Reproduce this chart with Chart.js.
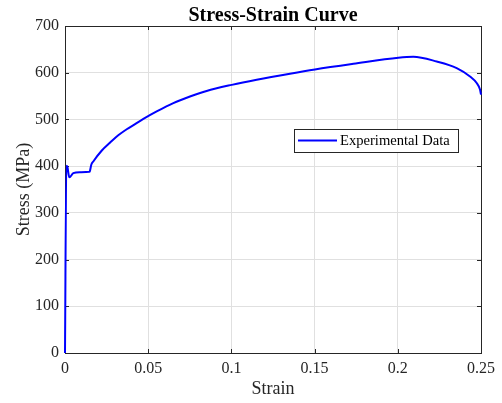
<!DOCTYPE html>
<html>
<head>
<meta charset="utf-8">
<script src="https://cdn.jsdelivr.net/npm/chart.js@4.4.1/dist/chart.umd.min.js"></script>
<style>
  html, body { margin: 0; padding: 0; background: #fff; }
  #wrap { width: 502px; height: 403px; }
</style>
</head>
<body>
<div id="wrap"><canvas id="chart" width="502" height="403"></canvas></div>
<script>
// values
const strain = [0, 0.0008, 0.0014, 0.0026, 0.005, 0.009, 0.0146, 0.0150, 0.0158, 0.017,
  0.022, 0.027, 0.032, 0.0371, 0.0421, 0.0471, 0.0551, 0.0651, 0.0751, 0.0851,
  0.1002, 0.1152, 0.1352, 0.1502, 0.1733, 0.2003, 0.2093, 0.2234,
  0.2354, 0.2434, 0.2474, 0.2494, 0.25];
const stress = [0, 401, 399, 376, 385, 387, 388, 390, 403, 410,
  433, 450, 466, 479, 490, 501, 517, 535, 549, 561,
  574, 585, 598, 607, 619, 632, 634, 624,
  610, 592, 578, 564, 553];
const seriesName = 'Experimental Data';

const serif = "'Liberation Serif', 'Times New Roman', serif";
const axisGray = '#262626';

// MATLAB-like box with inward tick marks
const boxPlugin = {
  id: 'box',
  beforeDatasetsDraw(chart) {
    const { ctx, chartArea: a, scales } = chart;
    ctx.save();
    ctx.strokeStyle = axisGray;
    ctx.lineWidth = 1;
    ctx.beginPath();
    scales.x.ticks.forEach(t => {
      const px = Math.round(scales.x.getPixelForValue(t.value)) + 0.5;
      ctx.moveTo(px, a.bottom); ctx.lineTo(px, a.bottom - 4);
      ctx.moveTo(px, a.top); ctx.lineTo(px, a.top + 4);
    });
    scales.y.ticks.forEach(t => {
      const py = Math.round(scales.y.getPixelForValue(t.value)) + 0.5;
      ctx.moveTo(a.left, py); ctx.lineTo(a.left + 4, py);
      ctx.moveTo(a.right, py); ctx.lineTo(a.right - 4, py);
    });
    ctx.stroke();
    ctx.strokeRect(Math.round(a.left) + 0.5, Math.round(a.top) + 0.5,
      Math.round(a.right - a.left), Math.round(a.bottom - a.top));
    ctx.restore();
  }
};

// legend box inside the axes, right side
const legendPlugin = {
  id: 'insideLegend',
  afterDraw(chart) {
    const { ctx } = chart;
    const x = 294, y = 129, w = 164, h = 23;
    ctx.save();
    ctx.fillStyle = '#fff';
    ctx.fillRect(x, y, w, h);
    ctx.strokeStyle = axisGray;
    ctx.lineWidth = 1;
    ctx.strokeRect(x + 0.5, y + 0.5, w, h);
    ctx.strokeStyle = '#0000ff';
    ctx.lineWidth = 2;
    ctx.beginPath();
    ctx.moveTo(x + 4, y + 11.5);
    ctx.lineTo(x + 43, y + 11.5);
    ctx.stroke();
    ctx.fillStyle = '#000';
    ctx.font = '14.6px ' + serif;
    ctx.textBaseline = 'middle';
    ctx.fillText(seriesName, x + 46, y + 12);
    ctx.restore();
  }
};

const ctx = document.getElementById('chart');
new Chart(ctx, {
  type: 'scatter',
  data: {
    datasets: [{
      label: seriesName,
      data: strain.map((s, i) => ({ x: s, y: stress[i] })),
      showLine: true,
      borderColor: '#0000ff',
      borderWidth: 2,
      pointRadius: 0,
      cubicInterpolationMode: 'monotone',
      clip: 4
    }]
  },
  options: {
    responsive: false,
    animation: false,
    layout: { padding: { left: 0, right: 21, top: 0, bottom: 0 } },
    plugins: {
      legend: { display: false },
      tooltip: { enabled: false },
      title: {
        display: true,
        fullSize: false,
        text: 'Stress-Strain Curve',
        color: '#000',
        font: { family: serif, size: 20, weight: 'bold', lineHeight: 1 },
        padding: { top: 6, bottom: 0 }
      }
    },
    scales: {
      x: {
        type: 'linear',
        min: 0,
        max: 0.25,
        afterFit(scale) { scale.height = 50; },
        ticks: {
          stepSize: 0.05,
          maxRotation: 0,
          padding: 6,
          color: axisGray,
          font: { family: serif, size: 16 },
          callback: v => String(+v.toFixed(4))
        },
        grid: { color: '#e0e0e0', drawTicks: false },
        border: { display: false },
        title: {
          display: true,
          text: 'Strain',
          color: axisGray,
          font: { family: serif, size: 18 },
          padding: { top: 0, bottom: 3 }
        }
      },
      y: {
        type: 'linear',
        min: 0,
        max: 700,
        afterFit(scale) { scale.width = 65; },
        ticks: {
          stepSize: 100,
          padding: 6,
          color: axisGray,
          font: { family: serif, size: 16 }
        },
        grid: { color: '#e0e0e0', drawTicks: false },
        border: { display: false },
        title: {
          display: true,
          text: 'Stress (MPa)',
          color: axisGray,
          font: { family: serif, size: 18 },
          padding: { top: 13, bottom: 0 }
        }
      }
    }
  },
  plugins: [boxPlugin, legendPlugin]
});
</script>
</body>
</html>
